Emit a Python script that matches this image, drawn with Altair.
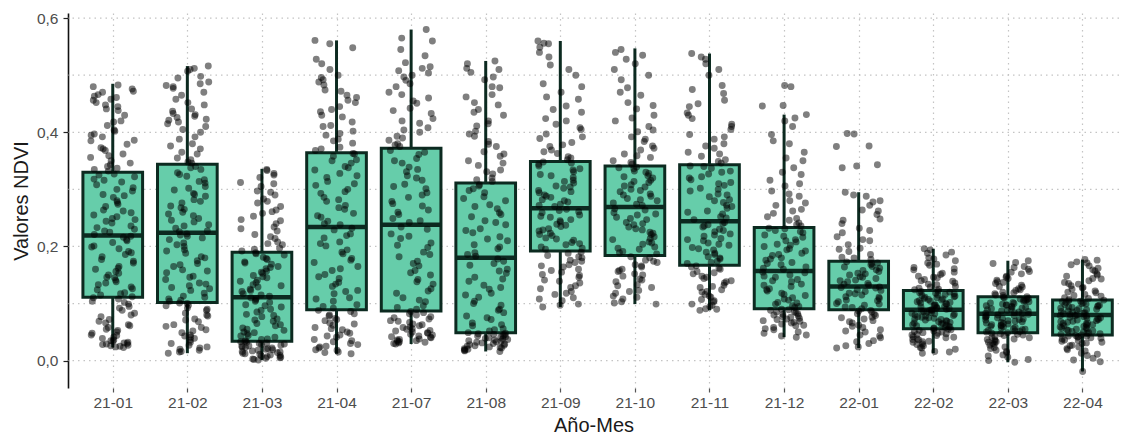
import altair as alt
import numpy as np
import pandas as pd

cats = ["21-01", "21-02", "21-03", "21-04", "21-07", "21-08", "21-09",
        "21-10", "21-11", "21-12", "22-01", "22-02", "22-03", "22-04"]

# box statistics
q1 = [0.111, 0.102, 0.034, 0.089, 0.087, 0.049, 0.192, 0.184, 0.167, 0.091, 0.089, 0.056, 0.049, 0.045]
med = [0.219, 0.224, 0.111, 0.234, 0.238, 0.180, 0.267, 0.269, 0.244, 0.157, 0.130, 0.089, 0.082, 0.080]
q3 = [0.330, 0.344, 0.190, 0.364, 0.372, 0.311, 0.349, 0.341, 0.343, 0.233, 0.174, 0.123, 0.112, 0.106]
wlo = [0.023, 0.013, 0.001, 0.012, 0.029, 0.016, 0.094, 0.099, 0.088, 0.041, 0.022, 0.013, -0.003, -0.019]
whi = [0.485, 0.516, 0.336, 0.561, 0.580, 0.525, 0.560, 0.547, 0.538, 0.431, 0.295, 0.196, 0.175, 0.177]

v2101 = [23, 24, 26, 28, 30, 31, 34, 36, 41, 45, 50, 53, 58, 63, 66, 72, 77, 83, 88, 95, 99, 104, 108,
         112, 115, 119, 124, 129, 133, 136, 141, 146, 150, 156, 160, 165, 171, 177, 182, 186, 191, 196, 201, 207, 212, 216,
         221, 225, 230, 236, 241, 244, 249, 255, 259, 264, 270, 274, 280, 286, 291, 297, 303, 308, 313, 318, 322, 327,
         332, 337, 343, 350, 356, 362, 368, 373, 379, 386, 392, 397, 404, 412, 420, 430, 438, 445, 452, 458, 461, 466, 470, 476, 483,
         25, 27, 29, 32, 35, 39, 44, 48, 55, 61, 69, 80, 92, 102, 110, 117, 126, 138, 145, 153, 162, 174, 189, 199, 210,
         218, 227, 233, 247, 252, 262, 277, 289, 300, 316, 325, 335, 340, 346, 359, 371, 385, 395, 402, 418, 441, 448, 456, 463, 472, 480]
v2102 = [13, 16, 20, 24, 27, 32, 36, 41, 45, 49, 54, 58, 63, 68, 73, 78, 83, 88, 92, 97, 100,
         104, 108, 113, 118, 123, 128, 131, 136, 142, 148, 154, 159, 165, 170, 175, 182, 188, 194, 200, 206, 212, 218, 222,
         227, 232, 238, 243, 249, 254, 260, 265, 271, 276, 282, 288, 293, 299, 305, 311, 317, 323, 329, 335, 340,
         348, 355, 362, 371, 380, 392, 400, 410, 418, 423, 428, 433, 441, 448, 458, 470, 477, 482, 488, 498, 507, 512, 516,
         15, 18, 22, 30, 39, 43, 52, 60, 71, 80, 90, 96, 101, 106, 111, 126, 134, 146, 157, 168, 180, 192, 203, 215, 220,
         226, 236, 246, 257, 268, 279, 291, 302, 314, 326, 338, 346, 352, 365, 376, 388, 405, 415, 421, 426, 431, 437, 452, 465, 480, 485, 495, 510]
v2103 = [1, 3, 5, 7, 9, 10, 12, 14, 16, 17, 19, 21, 23, 24, 26, 28, 30, 32, 33,
         35, 38, 41, 44, 47, 50, 53, 57, 61, 65, 69, 73, 77, 81, 85, 90, 94, 98, 102, 106, 109,
         113, 117, 121, 125, 129, 133, 137, 141, 145, 149, 153, 157, 161, 165, 169, 173, 177, 181, 185, 189,
         192, 197, 203, 208, 214, 221, 227, 234, 240, 247, 253, 258, 264, 270, 276, 283, 290, 297, 305, 312, 321, 328, 335,
         2, 4, 6, 8, 11, 13, 15, 18, 20, 22, 25, 27, 29, 31, 34, 37, 43, 49, 55, 63, 71, 79, 88, 96, 104, 110,
         115, 123, 131, 139, 147, 155, 163, 171, 179, 187, 195, 205, 217, 231, 245, 261, 279, 295, 310, 325, 333]
v2104 = [12, 15, 19, 22, 25, 28, 33, 37, 41, 45, 50, 54, 58, 62, 66, 70, 74, 78, 82, 86,
         92, 98, 104, 110, 117, 123, 130, 137, 144, 151, 158, 165, 172, 179, 187, 194, 201, 208, 215, 222, 229,
         238, 244, 251, 258, 265, 272, 279, 286, 293, 300, 307, 314, 321, 328, 334, 340, 346, 352, 358, 363,
         368, 374, 381, 388, 395, 402, 410, 418, 427, 436, 445, 456, 465, 474, 483, 492, 500, 520, 548, 561,
         14, 18, 24, 30, 35, 43, 48, 56, 64, 72, 80, 88, 95, 108, 121, 134, 147, 161, 176, 190, 205, 219, 232,
         240, 254, 268, 282, 296, 310, 324, 338, 350, 362, 371, 385, 398, 412, 430, 440, 452, 461, 472, 488, 496, 510, 528, 555]
v2107 = [29, 30, 32, 34, 36, 38, 41, 43, 45, 48, 50, 53, 56, 58, 61, 64, 67, 70, 73, 77, 80, 84,
         90, 96, 103, 110, 118, 126, 134, 142, 150, 158, 166, 174, 182, 190, 198, 206, 214, 222, 230,
         242, 249, 256, 264, 271, 279, 286, 294, 301, 309, 316, 324, 331, 339, 346, 354, 361, 368,
         375, 380, 386, 393, 400, 408, 416, 424, 433, 442, 451, 460, 470, 480, 491, 500, 508, 515, 534, 560, 580,
         31, 33, 35, 37, 40, 42, 46, 49, 52, 55, 59, 63, 69, 75, 82, 86, 93, 106, 122, 138, 154, 170, 186, 202, 218, 234,
         245, 260, 275, 290, 305, 320, 335, 350, 365, 378, 390, 404, 420, 438, 455, 466, 485, 497, 504, 512, 522, 545, 565]
v2108 = [16, 19, 21, 23, 25, 26, 28, 30, 31, 33, 34, 36, 38, 39, 41, 43, 44, 46, 48,
         52, 56, 61, 66, 72, 78, 84, 90, 97, 104, 111, 118, 125, 132, 139, 146, 153, 160, 167, 174,
         183, 189, 196, 203, 210, 217, 224, 231, 238, 245, 252, 259, 266, 273, 280, 287, 294, 301, 308,
         314, 320, 327, 334, 342, 350, 358, 366, 375, 384, 393, 402, 411, 420, 430, 440, 452, 466, 478, 492, 505, 512, 525,
         17, 18, 20, 22, 24, 27, 29, 32, 35, 37, 40, 42, 45, 47, 49, 54, 63, 75, 88, 100, 115, 128, 143, 157, 170, 178,
         186, 199, 213, 228, 242, 256, 270, 284, 298, 306, 317, 331, 346, 362, 379, 397, 415, 435, 448, 462, 480, 497, 510, 520]
v2109 = [94, 99, 105, 110, 116, 121, 126, 131, 136, 141, 146, 151, 155, 160, 164, 168, 172, 176, 180, 184, 188,
         195, 199, 203, 207, 211, 215, 219, 223, 227, 231, 235, 239, 243, 247, 251, 255, 259, 263,
         270, 274, 278, 282, 286, 290, 294, 298, 302, 306, 311, 316, 321, 326, 331, 336, 341, 346,
         352, 357, 363, 369, 375, 382, 389, 397, 405, 414, 424, 435, 446, 458, 470, 485, 500, 518, 532, 549, 556, 560,
         97, 108, 118, 128, 139, 149, 158, 166, 174, 182, 190, 197, 205, 213, 221, 229, 237, 245, 253, 261, 265,
         272, 280, 288, 296, 304, 314, 324, 334, 344, 348, 355, 366, 378, 392, 408, 420, 440, 462, 480, 510, 540, 555]
v2110 = [99, 103, 108, 113, 118, 123, 128, 133, 138, 143, 148, 152, 156, 160, 164, 168, 172, 176, 180,
         187, 191, 195, 199, 204, 208, 212, 217, 221, 225, 229, 234, 238, 242, 247, 251, 255, 259, 264,
         272, 276, 280, 284, 288, 292, 296, 300, 304, 308, 312, 316, 320, 324, 328, 332, 336, 339,
         344, 350, 356, 362, 369, 376, 384, 392, 401, 410, 420, 430, 441, 452, 465, 478, 492, 510, 528, 540, 545,
         101, 111, 121, 131, 141, 150, 158, 166, 174, 182, 189, 197, 206, 214, 223, 231, 240, 249, 257, 266,
         274, 282, 290, 298, 306, 314, 322, 330, 338, 347, 359, 372, 388, 404, 425, 447, 470, 500, 520, 535]
v2111 = [88, 91, 95, 99, 103, 107, 111, 116, 120, 124, 128, 132, 136, 140, 144, 148, 152, 156, 160, 164,
         170, 174, 178, 182, 186, 190, 194, 198, 202, 206, 210, 214, 218, 222, 226, 230, 234, 238, 242,
         247, 252, 257, 262, 267, 272, 277, 282, 287, 292, 297, 302, 307, 312, 317, 322, 327, 332, 337, 341,
         346, 352, 358, 365, 372, 380, 388, 396, 405, 414, 424, 434, 445, 456, 468, 482, 500, 520, 532, 538,
         90, 97, 105, 113, 121, 130, 138, 146, 154, 162, 166, 172, 180, 188, 196, 204, 212, 220, 228, 236, 240,
         250, 260, 270, 280, 290, 300, 310, 320, 330, 340, 349, 362, 376, 392, 410, 430, 450, 475, 510, 528]
v2112 = [41, 45, 50, 54, 58, 61, 64, 67, 70, 72, 74, 76, 78, 80, 82, 84, 86, 88, 90,
         93, 96, 99, 102, 106, 110, 114, 118, 122, 126, 130, 134, 138, 142, 146, 150, 154,
         160, 164, 168, 172, 176, 180, 184, 188, 192, 196, 200, 204, 208, 212, 216, 220, 224, 228, 232,
         236, 241, 246, 252, 258, 265, 272, 280, 288, 297, 306, 316, 326, 338, 350, 365, 380, 396, 410, 425, 431,
         446, 447, 480, 482,
         43, 48, 56, 62, 66, 69, 73, 77, 81, 85, 89, 95, 101, 108, 116, 124, 132, 140, 148, 155,
         162, 170, 178, 186, 194, 202, 210, 218, 226, 231, 238, 249, 262, 276, 292, 310, 330, 355, 385, 420]
v2201 = [22, 26, 30, 35, 40, 45, 50, 54, 58, 62, 66, 70, 73, 76, 79, 82, 85, 88,
         91, 94, 97, 100, 103, 106, 109, 112, 115, 118, 121, 124, 127, 129,
         132, 135, 138, 141, 144, 147, 150, 153, 156, 159, 162, 165, 168, 171, 173,
         177, 181, 186, 191, 197, 203, 210, 217, 224, 232, 240, 248, 256, 264, 272, 280, 288, 295,
         338, 341, 343, 375, 376, 397, 398,
         24, 33, 43, 52, 60, 68, 75, 81, 87, 93, 99, 105, 111, 117, 123, 128,
         134, 140, 146, 152, 158, 164, 170, 180, 195, 212, 228, 246, 262, 278, 290]
v2202 = [13, 16, 20, 23, 26, 29, 32, 34, 36, 38, 40, 42, 44, 46, 48, 49, 51, 53, 55,
         57, 59, 61, 63, 64, 66, 67, 69, 70, 72, 73, 75, 76, 78, 79, 81, 82, 84, 85, 87, 88,
         90, 91, 93, 94, 96, 97, 99, 100, 102, 103, 105, 106, 108, 109, 111, 112, 114, 116, 118, 120, 122,
         124, 127, 130, 133, 136, 139, 142, 145, 148, 151, 155, 159, 163, 167, 171, 175, 180, 185, 190, 196,
         15, 22, 28, 33, 37, 41, 45, 47, 50, 52, 54, 56, 58, 60, 62, 65, 68, 71, 74, 77, 80, 83, 86, 88,
         89, 92, 95, 98, 101, 104, 107, 110, 113, 115, 117, 119, 121, 125, 129, 134, 140, 146, 153, 161, 169, 178, 188, 194]
v2203 = [-3, 2, 6, 10, 14, 18, 21, 24, 27, 30, 32, 34, 36, 38, 40, 42, 44, 46, 48,
         50, 52, 54, 56, 58, 60, 62, 63, 65, 66, 68, 69, 71, 72, 74, 75, 77, 78, 80, 81,
         83, 84, 86, 87, 89, 90, 92, 93, 95, 96, 98, 99, 101, 102, 104, 105, 107, 108, 110, 111,
         114, 117, 120, 123, 126, 129, 132, 135, 138, 141, 144, 148, 152, 156, 160, 165, 170, 175,
         0, 8, 16, 23, 29, 33, 37, 41, 45, 47, 49, 51, 53, 55, 57, 59, 61, 64, 67, 70, 73, 76, 79, 82,
         85, 88, 91, 94, 97, 100, 103, 106, 109, 112, 115, 119, 124, 130, 137, 146, 155, 163, 172]
v2204 = [-19, -2, 4, 9, 13, 17, 21, 24, 27, 30, 32, 34, 36, 38, 40, 42, 43, 44,
         46, 48, 50, 52, 54, 56, 58, 60, 62, 63, 65, 66, 68, 69, 71, 72, 74, 75, 77, 78, 79,
         81, 82, 83, 85, 86, 87, 89, 90, 91, 93, 94, 95, 97, 98, 99, 101, 102, 103, 105,
         107, 110, 113, 116, 119, 122, 125, 128, 131, 134, 137, 140, 144, 148, 152, 157, 162, 168, 173, 177,
         1, 11, 19, 26, 31, 35, 39, 41, 43, 45, 47, 49, 51, 53, 55, 57, 59, 61, 64, 67, 70, 73, 76, 79,
         80, 84, 88, 92, 96, 100, 104, 106, 109, 114, 120, 127, 135, 143, 150, 159, 166, 171, 176]

series = [v2101, v2102, v2103, v2104, v2107, v2108, v2109, v2110, v2111, v2112, v2201, v2202, v2203, v2204]

grid_vals = [0.0, 0.1, 0.2, 0.3, 0.4, 0.5, 0.6]
y_label_vals = [0.0, 0.2, 0.4, 0.6]

FONT = "Liberation Sans"
GRID = "#c4c4c4"
EDGE = "#0c2a20"

rows = []
for k, vals in enumerate(series):
    for i, v in enumerate(vals):
        rows.append({"idx": k, "v": v / 1000.0, "i": i})
pts = pd.DataFrame(rows)
# deterministic horizontal jitter (position only, hash of the point's index)
h = np.sin((pts["i"] + 1) * 12.9898 + (pts["idx"] + 1) * 78.233) * 43758.5453
pts["xj"] = pts["idx"] + ((h - np.floor(h)) - 0.5) * 0.6

box = pd.DataFrame({"idx": list(range(len(cats))), "cat": cats,
                    "q1": q1, "med": med, "q3": q3, "wlo": wlo, "whi": whi})
gdf = pd.DataFrame({"g": grid_vals})

xscale = alt.Scale(domain=[-0.6, 13.49], nice=False, zero=False)
yscale = alt.Scale(domain=[-0.048, 0.609], nice=False, zero=False)

label_arr = "[" + ",".join("'%s'" % c for c in cats) + "]"
xaxis = alt.Axis(values=list(range(len(cats))), labelExpr=label_arr + "[datum.value]",
                 title="Año-Mes", grid=True, gridDash=[1.5, 4], gridColor=GRID, gridWidth=1.2,
                 domain=False, ticks=True, tickColor="#555555", tickSize=4, tickWidth=1.2,
                 labelFont=FONT, labelFontSize=15.5, labelColor="#4d4d4d", labelPadding=3,
                 titleFont=FONT, titleFontSize=20, titleFontWeight="normal", titleColor="#1a1a1a",
                 titlePadding=5)
yaxis = alt.Axis(values=y_label_vals,
                 labelExpr="replace(format(datum.value, '.1f'), '.', ',')",
                 title="Valores NDVI", grid=False, domain=True, domainColor="#111111", domainWidth=1.6,
                 ticks=True, tickColor="#222222", tickSize=5, tickWidth=1.2,
                 labelFont=FONT, labelFontSize=15.5, labelColor="#4d4d4d", labelPadding=5,
                 titleFont=FONT, titleFontSize=20, titleFontWeight="normal", titleColor="#1a1a1a",
                 titlePadding=5)

X = lambda f: alt.X(f, scale=xscale, axis=xaxis)
Y = lambda f: alt.Y(f, scale=yscale, axis=yaxis)

hgrid = alt.Chart(gdf).mark_rule(color=GRID, strokeDash=[1.5, 4], strokeWidth=1.2).encode(
    y=Y("g:Q")
)

box_base = alt.Chart(box).transform_calculate(
    xl="datum.idx - 0.4", xr="datum.idx + 0.4"
)

whisk_lo = box_base.mark_rule(color=EDGE, strokeWidth=3).encode(
    x=X("idx:Q"), y=Y("wlo:Q"), y2="q1:Q")
whisk_hi = box_base.mark_rule(color=EDGE, strokeWidth=3).encode(
    x=X("idx:Q"), y=Y("q3:Q"), y2="whi:Q")

bars = box_base.mark_bar(fill="#66cdaa", stroke=EDGE, strokeWidth=3).encode(
    x=X("xl:Q"), x2="xr:Q", y=Y("q1:Q"), y2="q3:Q")

medians = box_base.mark_rule(color=EDGE, strokeWidth=4.5).encode(
    x=X("xl:Q"), x2="xr:Q", y=Y("med:Q"))

points = alt.Chart(pts).mark_circle(size=48, color="black", opacity=0.5).encode(
    x=X("xj:Q"), y=Y("v:Q"))

chart = alt.layer(hgrid, whisk_lo, whisk_hi, bars, medians, points).properties(
    width=1051, height=375,
    autosize=alt.AutoSizeParams(type="none"),
    padding={"left": 60, "top": 5, "right": 0, "bottom": 49},
    background="white",
).configure_view(stroke=None)

chart.save("out.html", embed_options={"renderer": "svg", "actions": False})
